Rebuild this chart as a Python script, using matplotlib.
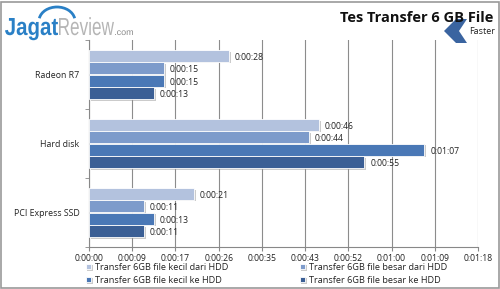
import matplotlib
matplotlib.use("Agg")
import matplotlib.pyplot as plt
import matplotlib.patheffects as pe
from matplotlib.patches import Polygon, Rectangle, Arc, PathPatch
from matplotlib.textpath import TextPath
from matplotlib.font_manager import FontProperties
from matplotlib.transforms import Affine2D, IdentityTransform
import numpy as np

categories = ["Radeon R7", "Hard disk", "PCI Express SSD"]
series_names = ["Transfer 6GB file kecil dari HDD",
                "Transfer 6GB file besar dari HDD",
                "Transfer 6GB file kecil ke HDD",
                "Transfer 6GB file besar ke HDD"]
kecil_dari = [28, 46, 21]
besar_dari = [15, 44, 11]
kecil_ke = [15, 67, 13]
besar_ke = [13, 55, 11]
series = [kecil_dari, besar_dari, kecil_ke, besar_ke]
colors = ["#b3c2de", "#7d9bcb", "#4a78b6", "#3b5f95"]

tick_step = 8.64  # 0.0001 day
n_ticks = 10

def fmt(s):
    s = int(round(s))
    return "%d:%02d:%02d" % (s // 3600, (s % 3600) // 60, s % 60)

plt.rcParams['font.family'] = ['Open Sans', 'DejaVu Sans']

W, H = 500, 289
fig = plt.figure(figsize=(5, 2.89), dpi=100)
ax = fig.add_axes([89/W, 1-247/H, (478-89)/W, (247-40)/H])

bh = 0.18
offsets = [-1.5, -0.5, 0.5, 1.5]
y = np.arange(len(categories))
shadow = [pe.SimplePatchShadow(offset=(1.2, -1.2), shadow_rgbFace="#999999", alpha=0.5), pe.Normal()]
for vals, col, off, name in zip(series, colors, offsets, series_names):
    bars = ax.barh(y + off*bh, vals, height=bh*0.95, color=col, edgecolor="white",
                   linewidth=0.6, label=name, zorder=3)
    for b in bars:
        b.set_path_effects(shadow)
    for yi, v in zip(y, vals):
        ax.text(v + 1.2, yi + off*bh + 0.02, fmt(v), va="center", ha="left",
                fontsize=6.2, color="#222222", zorder=4)

ax.set_ylim(2.5, -0.5)
ax.set_xlim(0, tick_step*(n_ticks-1))
xt = [i*tick_step for i in range(n_ticks)]
ax.set_xticks(xt)
ax.set_xticklabels([fmt(t) for t in xt], fontsize=6.2, color="#222222")
ax.set_yticks(y)
ax.set_yticklabels(categories, fontsize=6.3, color="#222222")
ax.set_yticks([-0.5, 0.5, 1.5, 2.5], minor=True)
ax.tick_params(axis='y', which='major', length=0, pad=7)
ax.tick_params(axis='y', which='minor', length=3, direction='out', color="#888888")
ax.tick_params(axis='x', length=3, direction='out', color="#888888", pad=2)
ax.grid(axis='x', color="#8c8c8c", linewidth=0.8, zorder=0)
for s in ["top", "right"]:
    ax.spines[s].set_visible(False)
ax.spines["left"].set_color("#888888")
ax.spines["bottom"].set_color("#888888")
ax.spines["left"].set_linewidth(0.8)
ax.spines["bottom"].set_linewidth(0.8)

h, l = ax.get_legend_handles_labels()
order = [0, 2, 1, 3]
leg = fig.legend([h[i] for i in order], [l[i] for i in order], loc="upper left",
                 bbox_to_anchor=(82/W, 1-259/H), ncol=2, frameon=False, fontsize=6.6,
                 handlelength=0.6, handleheight=0.6, columnspacing=7.8,
                 labelspacing=0.45, handletextpad=0.4, borderaxespad=0.0)
for t in leg.get_texts():
    t.set_color("#222222")

# title
fig.text(493/W, 1-18/H, "Tes Transfer 6 GB File", ha="right", va="center",
         fontsize=10.5, fontweight="bold", color="#111111")
fig.text(495/W, 1-31/H, "Faster", ha="right", va="center", fontsize=6.5, color="#222222")
chev = [(467, 19), (456, 19), (444, 31), (456, 43), (467, 43), (459, 31)]
fig.patches.append(Polygon([(x/W, 1-yy/H) for x, yy in chev], closed=True,
                           transform=fig.transFigure, facecolor="#3a64a0", edgecolor="none"))

# logo (text fitted to the reference box as text paths)
def fit_text(s, x0, x1, base_top, cap_px, color, weight="normal"):
    fp = FontProperties(family="Liberation Sans", weight=weight)
    tp = TextPath((0, 0), s, size=1, prop=fp)
    cap = TextPath((0, 0), "R", size=1, prop=fp).get_extents().height
    ext = tp.get_extents()
    sx = (x1 - x0) / ext.width
    sy = cap_px / cap
    tr = Affine2D().translate(-ext.x0, 0).scale(sx, sy).translate(x0, H - base_top)
    fig.patches.append(PathPatch(tp, transform=tr + IdentityTransform(),
                                 facecolor=color, edgecolor="none"))

fit_text("Jagat", 5, 58, 35, 17, "#2a80c6", "bold")
fit_text("Review", 59, 114, 35, 17, "#b5b5b5")
fit_text(".com", 115, 133, 35, 6, "#8a8a8a")
fig.patches.append(Arc((57/W, 1-21/H), 36/W, 28/H, theta1=15, theta2=165,
                       transform=fig.transFigure, color="#2a80c6", linewidth=2))

# frame
fig.patches.append(Rectangle((0.002, 0.004), 0.996, 0.99, transform=fig.transFigure,
                             fill=False, edgecolor="#999999", linewidth=1.2))

fig.savefig("out.png", dpi=100, facecolor="white")
